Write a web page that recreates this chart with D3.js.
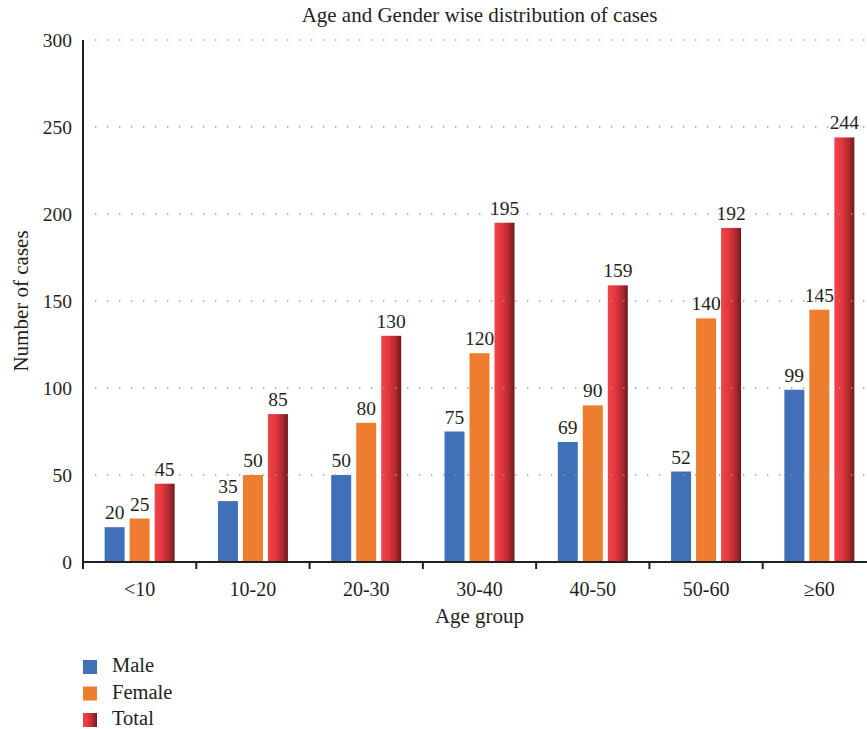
<!DOCTYPE html>
<html>
<head>
<meta charset="utf-8">
<script src="https://cdn.jsdelivr.net/npm/d3@7/dist/d3.min.js"></script>
<style>
  html, body { margin: 0; padding: 0; background: #ffffff; }
  svg { display: block; }
  text { font-family: "Liberation Serif", "DejaVu Serif", serif; fill: #231f20; }
</style>
</head>
<body>
<svg id="chart" width="867" height="729"></svg>
<script>
// Age groups and case counts
const categories = ["<10", "10-20", "20-30", "30-40", "40-50", "50-60", "≥60"];
const male = [20, 35, 50, 75, 69, 52, 99];
const female = [25, 50, 80, 120, 90, 140, 145];
const total = [45, 85, 130, 195, 159, 192, 244];
const seriesNames = ["Male", "Female", "Total"];
const yTicks = [0, 50, 100, 150, 200, 250, 300];

const series = [
  { name: seriesNames[0], values: male, fill: "#4070b8" },
  { name: seriesNames[1], values: female, fill: "#ee7d2f" },
  { name: seriesNames[2], values: total, fill: "url(#totalGrad)" }
];

const svg = d3.select("#chart");
const margin = { left: 83, top: 40, bottom: 562 };
const plotRight = 876;

const defs = svg.append("defs");
const grad = defs.append("linearGradient")
  .attr("id", "totalGrad").attr("x1", "0%").attr("x2", "100%").attr("y1", "0%").attr("y2", "0%");
grad.append("stop").attr("offset", "0%").attr("stop-color", "#f0444a");
grad.append("stop").attr("offset", "35%").attr("stop-color", "#e5383e");
grad.append("stop").attr("offset", "70%").attr("stop-color", "#b42a30");
grad.append("stop").attr("offset", "100%").attr("stop-color", "#6e1a1e");

const x = d3.scaleBand().domain(categories).range([margin.left, plotRight]).paddingInner(0).paddingOuter(0);
const xSub = d3.scaleBand().domain(seriesNames).range([0, 70]).paddingInner(0.2);
const y = d3.scaleLinear().domain([0, 300]).range([margin.bottom, margin.top]);

// Bars
series.forEach(s => {
  svg.append("g").selectAll("rect")
    .data(s.values)
    .join("rect")
    .attr("x", (d, i) => x(categories[i]) + x.bandwidth() / 2 - 35 + xSub(s.name))
    .attr("width", 20)
    .attr("y", d => y(d))
    .attr("height", d => y(0) - y(d))
    .attr("fill", s.fill);
});

// Dotted gridlines, drawn over the bars
svg.append("g").selectAll("line")
  .data(yTicks.filter(t => t > 0))
  .join("line")
  .attr("x1", margin.left + 12).attr("x2", plotRight)
  .attr("y1", d => y(d)).attr("y2", d => y(d))
  .attr("stroke", "#9a9a9a").attr("stroke-width", 1.4)
  .attr("stroke-dasharray", "1.4 10.6");

// Value labels
series.forEach(s => {
  svg.append("g").selectAll("text")
    .data(s.values)
    .join("text")
    .attr("x", (d, i) => x(categories[i]) + x.bandwidth() / 2 - 35 + xSub(s.name) + 10)
    .attr("y", d => y(d) - 8)
    .attr("text-anchor", "middle")
    .attr("font-size", 19.5)
    .text(d => d);
});

// Y axis
const yAxis = svg.append("g").attr("transform", `translate(${margin.left},0)`)
  .call(d3.axisLeft(y).tickValues(yTicks).tickSize(0).tickPadding(11));
yAxis.select(".domain").remove();
yAxis.selectAll("text").attr("font-size", 19.5).attr("fill", "#231f20")
  .style("font-family", "'Liberation Serif', serif");
svg.append("line")
  .attr("x1", margin.left).attr("x2", margin.left)
  .attr("y1", margin.top).attr("y2", margin.bottom + 7)
  .attr("stroke", "#231f20").attr("stroke-width", 2);

// X axis
const xAxis = svg.append("g").attr("transform", `translate(0,${margin.bottom})`)
  .call(d3.axisBottom(x).tickSize(0).tickPadding(20));
xAxis.select(".domain").remove();
xAxis.selectAll("text").attr("font-size", 20).attr("fill", "#231f20")
  .style("font-family", "'Liberation Serif', serif");
svg.append("line")
  .attr("x1", margin.left).attr("x2", plotRight)
  .attr("y1", margin.bottom).attr("y2", margin.bottom)
  .attr("stroke", "#231f20").attr("stroke-width", 2);
svg.append("g").selectAll("line")
  .data(categories.slice(1))
  .join("line")
  .attr("x1", d => x(d)).attr("x2", d => x(d))
  .attr("y1", margin.bottom).attr("y2", margin.bottom + 7)
  .attr("stroke", "#231f20").attr("stroke-width", 2);

// Titles
const cx = (margin.left + plotRight) / 2;
svg.append("text").attr("x", cx).attr("y", 22).attr("text-anchor", "middle")
  .attr("font-size", 21).text("Age and Gender wise distribution of cases");
svg.append("text").attr("x", cx).attr("y", 623).attr("text-anchor", "middle")
  .attr("font-size", 21).text("Age group");
svg.append("text")
  .attr("transform", `translate(28,${(margin.top + margin.bottom) / 2}) rotate(-90)`)
  .attr("text-anchor", "middle").attr("font-size", 21).text("Number of cases");

// Legend
const legend = svg.append("g").selectAll("g")
  .data(series)
  .join("g")
  .attr("transform", (d, i) => `translate(83,${660 + i * 26.5})`);
legend.append("rect").attr("width", 14).attr("height", 14).attr("fill", d => d.fill);
legend.append("text").attr("x", 29).attr("y", 12).attr("font-size", 20.5).text(d => d.name);
</script>
</body>
</html>
